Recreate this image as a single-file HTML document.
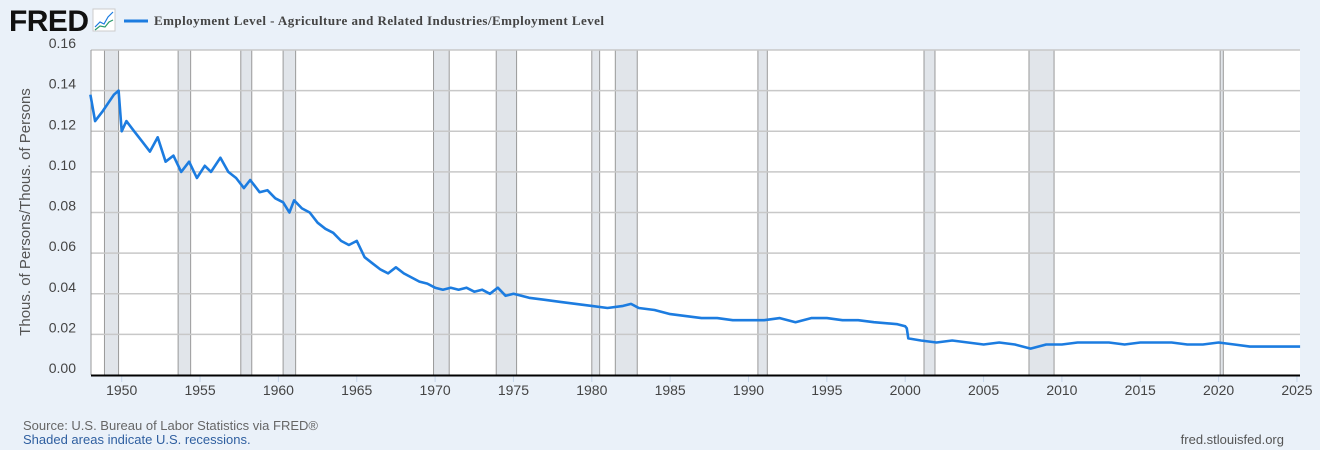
<!DOCTYPE html>
<html><head><meta charset="utf-8"><style>
body{margin:0;background:#eaf1f9;font-family:"Liberation Sans",sans-serif;}
svg{display:block}
</style></head><body>
<svg width="1320" height="450" viewBox="0 0 1320 450">
<rect x="0" y="0" width="1320" height="450" fill="#eaf1f9"/>
<text x="9" y="31" font-family="Liberation Sans" font-weight="bold" font-size="30" fill="#111" letter-spacing="-1" textLength="79">FRED</text>
<g><rect x="93" y="9" width="22" height="22" fill="#fff" stroke="#ccc"/><polyline points="95,27 100,22 104,24 108,17 113,12" fill="none" stroke="#1c7ce0" stroke-width="1.2"/><polyline points="95,30 100,26 105,27 109,22 113,20" fill="none" stroke="#2a9a6a" stroke-width="1.2"/></g>
<line x1="124" y1="21" x2="148" y2="21" stroke="#1c7ce0" stroke-width="3"/>
<text x="154" y="25" font-family="Liberation Serif" font-weight="bold" font-size="13" fill="#444" textLength="450">Employment Level - Agriculture and Related Industries/Employment Level</text>
<rect x="91" y="50" width="1209" height="325" fill="#fff"/>
<g id="rec"></g><g id="grid"></g><g id="yt"></g><g id="xt"></g>
<line x1="91" y1="50" x2="91" y2="375" stroke="#999"/>
<path id="ln" fill="none" stroke="#1c7ce0" stroke-width="2.6" stroke-linejoin="round"/>
<line x1="91" y1="375.5" x2="1300" y2="375.5" stroke="#000" stroke-width="2"/>
<text transform="translate(30,212) rotate(-90)" text-anchor="middle" font-size="15" fill="#555">Thous. of Persons/Thous. of Persons</text>
<text x="23" y="430" font-size="13" fill="#666">Source: U.S. Bureau of Labor Statistics via FRED®</text>
<text x="23" y="444" font-size="13" fill="#2f5fa0">Shaded areas indicate U.S. recessions.</text>
<text x="1284" y="444" text-anchor="end" font-size="13" fill="#555">fred.stlouisfed.org</text>
</svg>
<script>
const years=[1948.0,1948.3,1948.8,1949.5,1949.8,1950.0,1950.3,1950.8,1951.3,1951.8,1952.3,1952.8,1953.3,1953.8,1954.3,1954.8,1955.3,1955.7,1956.3,1956.8,1957.3,1957.8,1958.2,1958.8,1959.3,1959.8,1960.3,1960.7,1961.0,1961.5,1962,1962.5,1963,1963.5,1964,1964.5,1965,1965.5,1966,1966.5,1967,1967.5,1968,1968.5,1969,1969.5,1970,1970.5,1971,1971.5,1972,1972.5,1973,1973.5,1974,1974.5,1975,1975.5,1976,1977,1978,1979,1980,1981,1982,1982.5,1983,1984,1985,1986,1987,1988,1989,1990,1991,1992,1993,1994,1995,1996,1997,1998,1999.5,2000,2000.1,2000.2,2001,2002,2003,2004,2005,2006,2007,2008,2009,2010,2011,2012,2013,2014,2015,2016,2017,2018,2019,2020,2021,2022,2023,2024,2025.2];
const values=[0.138,0.125,0.130,0.138,0.140,0.120,0.125,0.120,0.115,0.110,0.117,0.105,0.108,0.100,0.105,0.097,0.103,0.100,0.107,0.100,0.097,0.092,0.096,0.090,0.091,0.087,0.085,0.080,0.086,0.082,0.080,0.075,0.072,0.070,0.066,0.064,0.066,0.058,0.055,0.052,0.050,0.053,0.050,0.048,0.046,0.045,0.043,0.042,0.043,0.042,0.043,0.041,0.042,0.040,0.043,0.039,0.040,0.039,0.038,0.037,0.036,0.035,0.034,0.033,0.034,0.035,0.033,0.032,0.030,0.029,0.028,0.028,0.027,0.027,0.027,0.028,0.026,0.028,0.028,0.027,0.027,0.026,0.025,0.024,0.023,0.018,0.017,0.016,0.017,0.016,0.015,0.016,0.015,0.013,0.015,0.015,0.016,0.016,0.016,0.015,0.016,0.016,0.016,0.015,0.015,0.016,0.015,0.014,0.014,0.014,0.014];
const recStart=[1948.9,1953.6,1957.6,1960.3,1969.9,1973.9,1980.0,1981.5,1990.6,2001.2,2007.9,2020.1];
const recEnd=[1949.8,1954.4,1958.3,1961.1,1970.9,1975.2,1980.5,1982.9,1991.2,2001.9,2009.5,2020.3];
const yTicks=[0,0.02,0.04,0.06,0.08,0.10,0.12,0.14,0.16];
const xTicks=[1950,1955,1960,1965,1970,1975,1980,1985,1990,1995,2000,2005,2010,2015,2020,2025];
const X=t=>121.7+(t-1950)*15.67, Y=v=>375-v/0.16*325;
const NS='http://www.w3.org/2000/svg';
function mk(tag,p,at){const e=document.createElementNS(NS,tag);for(const k in at)e.setAttribute(k,at[k]);p.appendChild(e);return e;}
const rec=document.getElementById('rec');
recStart.forEach((s,i)=>{const r=mk('rect',rec,{x:X(s),y:50,width:X(recEnd[i])-X(s),height:325,fill:'#e1e5ea',stroke:'#999','stroke-width':1});

});
const g=document.getElementById('grid'),yt=document.getElementById('yt'),xt=document.getElementById('xt');
yTicks.forEach(v=>{if(v>0){const l=mk('line',g,{x1:91,x2:1300,y1:Y(v),y2:Y(v),stroke:'#c8c8c8','stroke-width':1.5});

}
const t=mk('text',yt,{x:76,y:Y(v)-2,'text-anchor':'end','font-size':14,fill:'#444'});t.textContent=v.toFixed(2);

});
xTicks.forEach(y=>{const l=mk('line',xt,{x1:X(y),x2:X(y),y1:376,y2:382,stroke:'#c6d6ea'});


const t=mk('text',xt,{x:X(y),y:395,'text-anchor':'middle','font-size':14,fill:'#444'});t.textContent=y;

});
document.getElementById('ln').setAttribute('d',years.map((t,i)=>(i?'L':'M')+X(t).toFixed(1)+','+Y(values[i]).toFixed(1)).join(''));
</script>
</body></html>
